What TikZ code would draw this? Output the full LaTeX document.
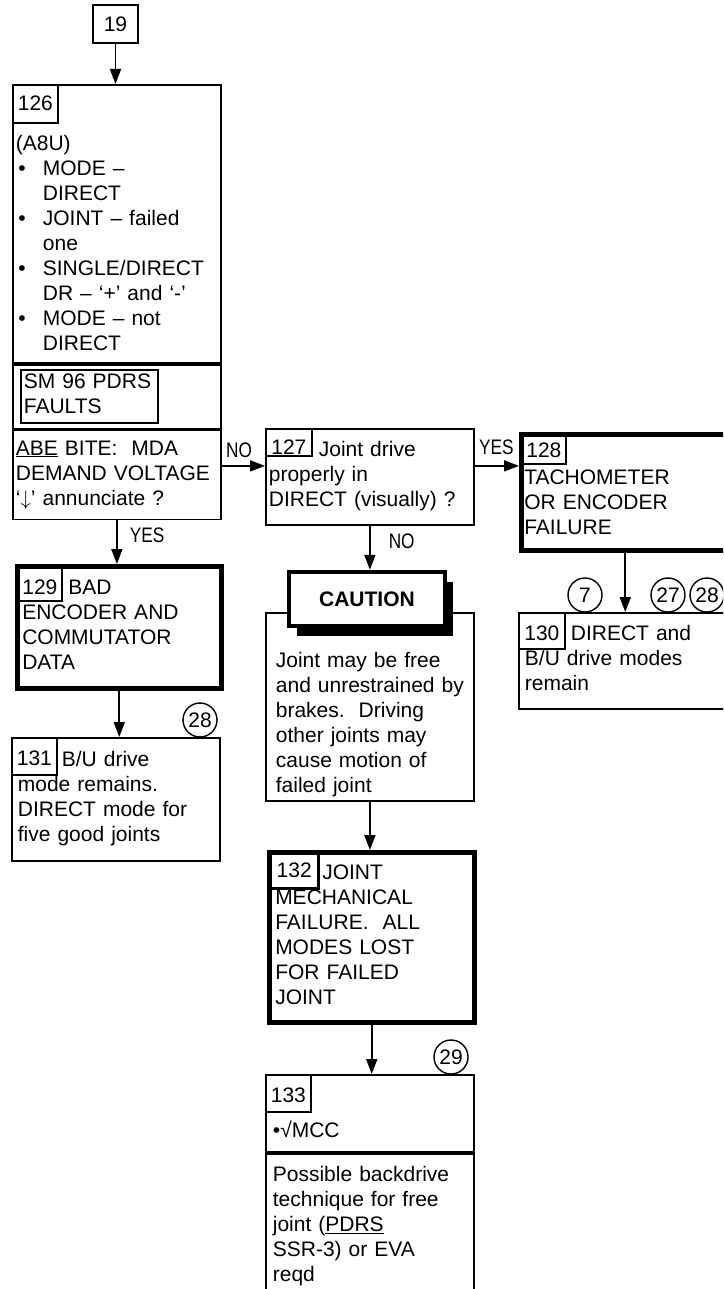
\documentclass[tikz,border=0pt]{standalone}
\usepackage{fontspec}
\setmainfont{Liberation Sans}
\usepackage{graphicx}
\usetikzlibrary{arrows.meta,positioning,shadows}
\newcommand{\bitem}{\makebox[27pt][l]{\hspace{2.5pt}\textbullet}}
\newcommand{\bcont}{\hspace*{27pt}}
\newcommand{\narrow}[1]{\scalebox{0.82}[1]{#1}}

\begin{document}
\begin{tikzpicture}[x=1pt,y=-1pt,font=\fontsize{21}{25}\selectfont,>={Triangle[length=15pt,width=11pt]},
  stepbox/.style={draw,line width=1.8pt,anchor=north west,align=left,inner xsep=3pt},
  finalbox/.style={stepbox,line width=4.5pt},
  numbox/.style={draw,line width=1.8pt,anchor=north west,inner xsep=0pt,inner ysep=0pt},
  refcirc/.style={circle,draw,line width=1.4pt,minimum size=34pt,inner sep=0pt},
  flow/.style={->,line width=1.8pt},
  flowlbl/.style={inner sep=1pt}]
  \useasboundingbox (0,0) rectangle (723,1289);
  \clip (0,0) rectangle (723,1289);

  \node[draw,line width=1.8pt,minimum width=45pt,minimum height=38pt] (b19) at (115.5,24) {19};

  \node[stepbox,text width=202pt,inner ysep=5pt] (s126a) at (12,84) {\strut\\[18pt](A8U)\\\bitem MODE –\\\bcont DIRECT\\\bitem JOINT – failed\\\bcont one\\\bitem SINGLE/DIRECT\\\bcont DR – ‘+’ and ‘-’\\\bitem MODE – not\\\bcont DIRECT\strut};
  \node[numbox,minimum width=45pt,text height=26pt,text depth=12pt] (n126) at (s126a.north west) {126};
  \node[draw,line width=1.8pt,anchor=north west,minimum width=208pt,minimum height=64pt,inner sep=0pt] (s126b) at (s126a.south west) {};
  \node[stepbox,text width=131pt,inner ysep=1.5pt] (sm96) at (20,369) {\strut SM 96 PDRS\\FAULTS\strut};
  \node[stepbox,text width=202pt,inner ysep=7pt] (s126c) at (s126b.south west) {\strut\underline{ABE} BITE:\ \ MDA\\DEMAND VOLTAGE\\‘$\downarrow$’ annunciate ?\strut};

  \node[stepbox,text width=202pt,inner ysep=10.5pt] (b127) at (265,428) {\strut\hspace*{50pt}Joint drive\\properly in\\DIRECT (visually) ?\strut};
  \node[numbox,minimum width=46pt,text height=26pt,text depth=1pt] (n127) at (b127.north west) {127};

  \node[finalbox,text width=202pt,inner ysep=8pt] (b128) at (519,432) {\strut\\TACHOMETER\\OR ENCODER\\FAILURE\strut};
  \node[numbox,minimum width=44pt,text height=23pt,text depth=6pt] (n128) at ([shift={(2,2)}]b128.north west) {128};

  \node[finalbox,text width=194pt,inner xsep=5pt,inner ysep=11pt] (b129) at (15,564) {\strut\hspace*{46pt}BAD\\ENCODER AND\\COMMUTATOR\\DATA\strut};
  \node[numbox,minimum width=44pt,text height=28pt,text depth=6pt] (n129) at ([shift={(2,2)}]b129.north west) {129};

  \node[stepbox,text width=198pt,inner xsep=6pt,inner ysep=10.5pt] (b130) at (518,612) {\strut\hspace*{46pt}DIRECT and\\B/U drive modes\\remain\strut};
  \node[numbox,minimum width=46pt,text height=28pt,text depth=8pt] (n130) at (b130.north west) {130};

  \node[stepbox,text width=196pt,inner xsep=6pt,inner ysep=11.5pt] (b131) at (11,737) {\strut\hspace*{44pt}B/U drive\\mode remains.\\DIRECT mode for\\five good joints\strut};
  \node[numbox,minimum width=45pt,text height=28pt,text depth=9pt] (n131) at (b131.north west) {131};

  \node[stepbox,text width=188pt,inner xsep=10pt,inner ysep=0.5pt] (bcau) at (265,612) {\strut\\[12pt]Joint may be free\\and unrestrained by\\brakes.\ \ Driving\\other joints may\\cause motion of\\failed joint\strut};
  \node[draw,line width=4.5pt,fill=white,minimum width=156pt,minimum height=54pt,font=\fontsize{21}{25}\selectfont\bfseries,
    drop shadow={shadow xshift=8pt,shadow yshift=-10pt,fill=black,opacity=1}] (lcau) at (367,599) {CAUTION};

  \node[finalbox,text width=193pt,inner xsep=6pt,inner ysep=10pt] (b132) at (267,850) {\strut\hspace*{47pt}JOINT\\MECHANICAL\\FAILURE.\ \ ALL\\MODES LOST\\FOR FAILED\\JOINT\strut};
  \node[numbox,line width=2.5pt,minimum width=48pt,text height=24pt,text depth=11pt] (n132) at ([shift={(2,2)}]b132.north west) {132};

  \node[stepbox,text width=194pt,inner xsep=7pt,inner ysep=6.5pt] (b133a) at (265,1074) {\strut\\[14pt]\textbullet√MCC\strut};
  \node[numbox,minimum width=45pt,text height=28pt,text depth=9pt] (n133) at (b133a.north west) {133};
  \node[stepbox,text width=194pt,inner xsep=7pt,inner ysep=10pt] (b133b) at (b133a.south west) {\strut Possible backdrive\\technique for free\\joint (\underline{PDRS}\\SSR-3) or EVA\\reqd\strut};

  \node[refcirc] (c7) at (585,595) {7};
  \node[refcirc] (c27) at (668,595) {27};
  \node[refcirc] (c28a) at (707,595) {28};
  \node[refcirc] (c28b) at (200,720) {28};
  \node[refcirc] (c29) at (451,1057) {29};

  \draw[flow] (b19.south) -- (b19.south |- s126a.north);
  \draw[flow] ([yshift=11pt]b127.west -| s126c.east) -- node[pos=0,anchor=south west,flowlbl,xshift=2.5pt,yshift=6pt]{\narrow{NO}} ([yshift=11pt]b127.west);
  \draw[flow] ([yshift=11pt]b127.east) -- node[pos=0,anchor=south west,flowlbl,xshift=2.5pt,yshift=9pt]{\narrow{YES}} ([yshift=11pt]b127.east -| b128.west);
  \draw[flow] (s126c.south) -- node[pos=0,anchor=north west,flowlbl,xshift=11pt,yshift=-5.5pt]{\narrow{YES}} (s126c.south |- b129.north);
  \draw[flow] (b127.south) -- node[pos=0,anchor=north west,flowlbl,xshift=17pt,yshift=-6.5pt]{\narrow{NO}} (b127.south |- lcau.north);
  \draw[flow] (b128.south) -- (b128.south |- b130.north);
  \draw[flow] (b129.south) -- (b129.south |- b131.north);
  \draw[flow] (bcau.south) -- (bcau.south |- b132.north);
  \draw[flow] (b132.south) -- (b132.south |- b133a.north);
\end{tikzpicture}
\end{document}
